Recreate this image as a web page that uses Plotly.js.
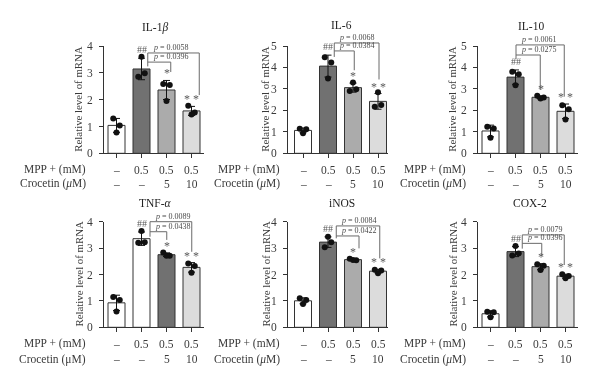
<!DOCTYPE html>
<html><head><meta charset="utf-8">
<script src="https://cdn.plot.ly/plotly-3.0.1.min.js"></script>
<style>html,body{margin:0;padding:0;background:#fff;}#chart{width:600px;height:386px;will-change:transform;}</style>
</head><body><div id="chart"></div>
<script>
// ---------------- data ----------------
const titles = ['IL-1<i>β</i>', 'IL-6', 'IL-10', 'TNF-<i>α</i>', 'iNOS', 'COX-2'];
const groups = ['Control', 'MPP+ 0.5', 'MPP+ 0.5 + Crocetin 5', 'MPP+ 0.5 + Crocetin 10'];
const mppLabels = ['–', '0.5', '0.5', '0.5'];
const crocetinLabels = ['–', '–', '5', '10'];
const yMax = [4, 5, 5, 4, 4, 4];
const sigLabels = ['', '##', '*', '* *'];

// three replicate values per group
const il1b = [[1.30, 1.04, 0.78], [2.85, 2.98, 3.60], [2.58, 2.55, 1.95], [1.77, 1.52, 1.45]];
const il6  = [[1.14, 1.12, 0.94], [4.47, 4.23, 3.49], [2.90, 2.98, 3.30], [2.17, 2.25, 2.84]];
const il10 = [[1.24, 1.15, 0.73], [3.80, 3.68, 3.17], [2.68, 2.60, 2.55], [2.24, 2.05, 1.58]];
const tnfa = [[1.15, 1.03, 0.60], [3.20, 3.22, 3.65], [2.83, 2.71, 2.71], [2.42, 2.32, 2.07]];
const inos = [[1.10, 1.03, 0.88], [3.03, 3.22, 3.43], [2.60, 2.54, 2.55], [2.18, 2.15, 2.05]];
const cox2 = [[0.59, 0.57, 0.38], [2.72, 2.80, 3.08], [2.39, 2.33, 2.17], [2.01, 1.94, 1.86]];

const pOuter = ['0.0058', '0.0068', '0.0061', '0.0089', '0.0084', '0.0079'];
const pInner = ['0.0396', '0.0384', '0.0275', '0.0438', '0.0422', '0.0396'];

// ---------------- layout / style ----------------
const W = 600, H = 386;
const FONT = 'Liberation Serif, DejaVu Serif, serif';
const TXT = '#3a3a3a';
const colPx = [[104, 204], [288, 388], [478, 578]];
const colR0 = [-0.5, -0.6, -0.5];
const rowPx = [[46, 153.3], [221.7, 327.3]];
const titleXY = [[155, 27], [341.7, 24.5], [531, 25.5], [155, 203], [341.7, 203], [530, 203]];
const yTitleX = [78, 265, 452];
const labelRight = [88.3, 281.7, 468.3];
const mppY = [169.5, 343.5];
const crocY = [184, 359];
const jitter = [-0.13, 0.13, 0];
const palette = ['#ffffff', '#717171', '#ababab', '#dcdcdc'];
const paletteTNF = ['#ffffff', '#ffffff', '#717171', '#dcdcdc'];
// bracket geometry (data units)
const brackets = [
  {outer: 3.74, inner: 3.40, leftX: 1.25, leftBot: 3.24, innerX: 2.17, innerBot: 3.03, outerX: 3.31, outerBot: 2.17},
  {outer: 5.14, inner: 4.77, leftX: 1.25, leftBot: 4.49, innerX: 2.05, innerBot: 3.87, outerX: 3.04, outerBot: 3.44},
  {outer: 5.05, inner: 4.58, leftX: 1.02, leftBot: 4.38, innerX: 1.99, innerBot: 2.95, outerX: 2.95, outerBot: 2.64},
  {outer: 4.00, inner: 3.62, leftX: 1.34, leftBot: 3.43, innerX: 2.01, innerBot: 3.31, outerX: 3.01, outerBot: 2.86},
  {outer: 3.84, inner: 3.46, leftX: 1.33, leftBot: 3.37, innerX: 2.24, innerBot: 2.99, outerX: 3.07, outerBot: 2.61},
  {outer: 3.50, inner: 3.18, leftX: 1.27, leftBot: 2.98, innerX: 2.05, innerBot: 2.69, outerX: 2.95, outerBot: 2.36}
];

const panelData = [il1b, il6, il10, tnfa, inos, cox2];
const mean = a => a.reduce((s, v) => s + v, 0) / a.length;
const sd = a => { const m = mean(a); return Math.sqrt(a.reduce((s, v) => s + (v - m) * (v - m), 0) / (a.length - 1)); };

const traces = [];
const layout = {
  width: W, height: H, margin: {l: 0, r: 0, t: 0, b: 0},
  paper_bgcolor: '#fff', plot_bgcolor: 'rgba(0,0,0,0)',
  showlegend: false, font: {family: FONT, color: TXT},
  annotations: [], shapes: []
};

panelData.forEach((vals, p) => {
  const k = p + 1;
  const col = p % 3, row = Math.floor(p / 3);
  const xa = k === 1 ? 'x' : 'x' + k, ya = k === 1 ? 'y' : 'y' + k;
  const r0 = colR0[col], r1 = r0 + 4;
  const idx = groups.map((g, i) => i);
  const means = vals.map(mean), sds = vals.map(sd);
  const colors = p === 3 ? paletteTNF : palette;

  traces.push({
    type: 'bar', x: idx, y: means, width: 0.68, xaxis: xa, yaxis: ya,
    marker: {color: colors, line: {color: '#333', width: 1}},
    error_y: {type: 'data', array: sds, visible: true, color: '#111', thickness: 1, width: 3.5},
    hoverinfo: 'skip'
  });
  const px = [], py = [];
  vals.forEach((g, i) => g.forEach((v, j) => { px.push(i + jitter[j]); py.push(v); }));
  traces.push({
    type: 'scatter', mode: 'markers', x: px, y: py, xaxis: xa, yaxis: ya, cliponaxis: false,
    marker: {color: '#111', size: 6}, hoverinfo: 'skip'
  });

  const xd = [colPx[col][0] / W, colPx[col][1] / W];
  const yd = [1 - rowPx[row][1] / H, 1 - rowPx[row][0] / H];
  layout['xaxis' + (k === 1 ? '' : k)] = {
    domain: xd, anchor: ya, range: [r0, r1], fixedrange: true,
    showline: true, linecolor: '#333', linewidth: 1, showgrid: false, zeroline: false,
    tickvals: idx, ticks: 'outside', ticklen: 4, tickcolor: '#333', showticklabels: false
  };
  layout['yaxis' + (k === 1 ? '' : k)] = {
    domain: yd, anchor: xa, range: [0, yMax[p]], dtick: 1, fixedrange: true,
    showline: true, linecolor: '#333', linewidth: 1, showgrid: false, zeroline: false,
    ticks: 'outside', ticklen: 4, tickcolor: '#333', ticklabelstandoff: 4,
    tickfont: {family: FONT, size: 11.5, color: TXT}
  };

  const A = layout.annotations;
  A.push({text: titles[p], xref: 'paper', yref: 'paper', x: titleXY[p][0] / W, y: 1 - titleXY[p][1] / H,
    xanchor: 'center', yanchor: 'middle', showarrow: false, font: {family: FONT, size: 11.5, color: '#222'}});
  A.push({text: 'Relative level of mRNA', textangle: -90, xref: 'paper', yref: 'paper',
    x: yTitleX[col] / W, y: (yd[0] + yd[1]) / 2, xanchor: 'center', yanchor: 'middle', showarrow: false,
    font: {family: FONT, size: 10.8, color: TXT}});
  A.push({text: 'MPP + (mM)', xref: 'paper', yref: 'paper', x: labelRight[col] / W, y: 1 - mppY[row] / H,
    xanchor: 'right', yanchor: 'middle', showarrow: false, font: {family: FONT, size: 11.5, color: TXT}});
  A.push({text: p === 3 ? 'Crocetin (μM)' : 'Crocetin (<i>μ</i>M)', xref: 'paper', yref: 'paper', x: labelRight[col] / W, y: 1 - crocY[row] / H,
    xanchor: 'right', yanchor: 'middle', showarrow: false, font: {family: FONT, size: 11.5, color: TXT}});
  idx.forEach(i => {
    A.push({text: mppLabels[i], xref: xa, yref: 'paper', x: i, y: 1 - mppY[row] / H, xanchor: 'center', yanchor: 'middle',
      showarrow: false, font: {family: FONT, size: 11.5, color: TXT}});
    A.push({text: crocetinLabels[i], xref: xa, yref: 'paper', x: i, y: 1 - crocY[row] / H, xanchor: 'center', yanchor: 'middle',
      showarrow: false, font: {family: FONT, size: 11.5, color: TXT}});
    if (sigLabels[i]) {
      A.push({text: sigLabels[i], xref: xa, yref: ya, x: i, y: means[i] + sds[i], xanchor: 'center', yanchor: 'bottom',
        yshift: i === 1 ? 1 : -2, showarrow: false, font: {family: FONT, size: i === 1 ? 10 : 12, color: '#5a5a5a'}});
    }
  });

  const b = brackets[p];
  const fx = v => (v - r0) / (r1 - r0);
  const fy = v => v / yMax[p];
  const xr = xa + ' domain', yr = ya + ' domain';
  const ln = {color: '#6a6a6a', width: 1};
  const seg = (x0, y0, x1, y1) => layout.shapes.push({type: 'line', xref: xr, yref: yr,
    x0: fx(x0), y0: fy(y0), x1: fx(x1), y1: fy(y1), line: ln});
  seg(b.leftX, b.outer, b.leftX, b.leftBot);
  seg(b.leftX, b.outer, b.outerX, b.outer);
  seg(b.outerX, b.outer, b.outerX, b.outerBot);
  seg(b.leftX, b.inner, b.innerX, b.inner);
  seg(b.innerX, b.inner, b.innerX, b.innerBot);
  A.push({text: '<i>p</i> = ' + pOuter[p], xref: xr, yref: yr, x: fx(b.leftX), y: fy(b.outer), xanchor: 'left', yanchor: 'bottom',
    xshift: 3, yshift: -1, showarrow: false, font: {family: FONT, size: 8, color: '#4a4a4a'}});
  A.push({text: '<i>p</i> = ' + pInner[p], xref: xr, yref: yr, x: fx(b.leftX), y: fy(b.inner), xanchor: 'left', yanchor: 'bottom',
    xshift: 3, yshift: -1, showarrow: false, font: {family: FONT, size: 8, color: '#4a4a4a'}});
});

Plotly.newPlot('chart', traces, layout, {staticPlot: true, displayModeBar: false});
</script>
</body></html>
